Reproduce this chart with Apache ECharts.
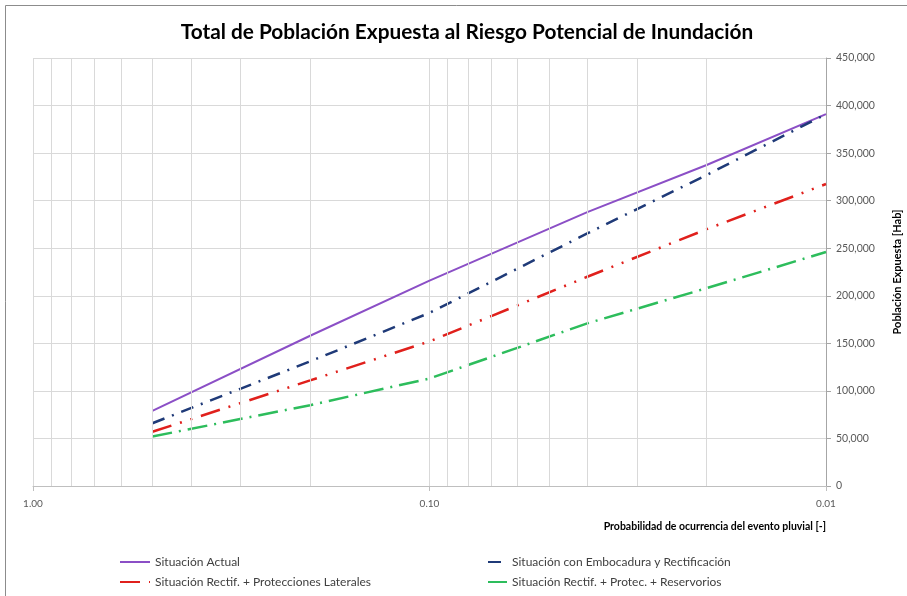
<!DOCTYPE html>
<html lang="es">

<head>
    <meta charset="UTF-8">
    <title>Población Expuesta</title>
    <script src="https://cdn.jsdelivr.net/npm/echarts@6/dist/echarts.min.js"></script>
</head>

<body style="margin:0">
<div id="main" style="width: 907px; height:596px;"></div>
<script>
    // probabilidad de ocurrencia (eje log invertido)
    const prob = [0.5, 0.2, 0.1, 0.04, 0.02, 0.01]
    const actual = [79000, 158000, 216000, 288000, 337500, 391000]
    const embocadura = [66000, 131000, 182000, 265500, 327000, 391000]
    const protecciones = [57000, 111000, 152000, 220000, 270000, 317500]
    const reservorios = [52000, 85000, 113000, 171000, 208000, 246000]
    // lineas menores del eje log
    const minorGrid = [0.9, 0.8, 0.7, 0.6, 0.5, 0.4, 0.3, 0.2,
        0.09, 0.08, 0.07, 0.06, 0.05, 0.04, 0.03, 0.02]

    const font = 'Lato'
    const pairs = (ys) => prob.map((p, i) => [p, ys[i]])

    function lineSeries(name, ys, color, type, width) {
        return {
            name: name,
            type: 'line',
            data: pairs(ys),
            symbol: 'none',
            z: 3,
            lineStyle: {color: color, width: width, type: type},
            itemStyle: {color: color}
        }
    }

    const legendBase = {
        top: 551, orient: 'vertical', itemGap: 8, itemHeight: 14,
        itemStyle: {opacity: 0},
        textStyle: {fontFamily: font, fontSize: 12, color: '#404040'}
    }

    const chart = echarts.init(document.getElementById('main'))
    chart.setOption({
        animation: false,
        backgroundColor: '#fff',
        textStyle: {fontFamily: font},
        graphic: [{
            type: 'rect',
            shape: {x: 5.5, y: 5.5, width: 1000, height: 1000},
            style: {fill: 'none', stroke: '#8c8c8c', lineWidth: 1}
        }],
        title: {
            text: 'Total de Población Expuesta al Riesgo Potencial de Inundación',
            left: 462,
            textAlign: 'center',
            top: 17,
            textStyle: {fontFamily: font, fontSize: 20.8, fontWeight: 'bold', color: '#000'}
        },
        grid: {left: 33, right: 81, top: 58, bottom: 110, outerBoundsMode: 'none', containLabel: false},
        legend: [Object.assign({}, legendBase, {
            left: 114, itemWidth: 30,
            data: ['Situación Actual', 'Situación Rectif. + Protecciones Laterales']
        }), Object.assign({}, legendBase, {
            left: 482, itemWidth: 19,
            data: ['Situación con Embocadura y Rectificación', 'Situación Rectif. + Protec. + Reservorios']
        })],
        xAxis: {
            type: 'log',
            logBase: 10,
            min: 0.01,
            max: 1,
            inverse: true,
            name: 'Probabilidad de ocurrencia del evento pluvial [-]',
            nameLocation: 'start',
            nameGap: 0,
            nameTextStyle: {
                fontFamily: font, fontSize: 10.5, fontWeight: 'bold', color: '#000',
                align: 'right', verticalAlign: 'top', padding: [35, 0, 0, 0]
            },
            axisLine: {show: true, lineStyle: {color: '#bfbfbf'}},
            axisTick: {show: true, length: 5, lineStyle: {color: '#bfbfbf'}},
            axisLabel: {
                color: '#595959', fontSize: 10, margin: 13,
                formatter: (v) => v.toFixed(2)
            },
            splitLine: {show: true, lineStyle: {color: '#d9d9d9'}}
        },
        yAxis: {
            type: 'value',
            position: 'right',
            min: 0,
            max: 450000,
            interval: 50000,
            name: 'Población Expuesta [Hab]',
            nameLocation: 'middle',
            nameRotate: 90,
            nameGap: 66,
            nameTextStyle: {fontFamily: font, fontSize: 11, fontWeight: 'bold', color: '#000'},
            axisLine: {show: true, lineStyle: {color: '#a6a6a6'}},
            axisTick: {show: true, length: 5, lineStyle: {color: '#a6a6a6'}},
            axisLabel: {
                color: '#595959', fontSize: 10.5, margin: 10,
                formatter: (v) => v.toLocaleString('en-US')
            },
            splitLine: {show: true, lineStyle: {color: '#d9d9d9'}}
        },
        series: [
            {
                name: 'grid',
                type: 'line',
                data: [],
                z: 1,
                silent: true,
                markLine: {
                    silent: true,
                    symbol: ['none', 'none'],
                    label: {show: false},
                    lineStyle: {color: '#d9d9d9', type: 'solid', width: 1},
                    data: minorGrid.map((v) => ({xAxis: v}))
                }
            },
            lineSeries('Situación Actual', actual, '#8b4fc6', 'solid', 2),
            lineSeries('Situación con Embocadura y Rectificación', embocadura, '#1f3a78', [13, 8, 2, 8], 2.5),
            lineSeries('Situación Rectif. + Protecciones Laterales', protecciones, '#e0201c', [20, 9, 2, 9, 2, 9], 2.5),
            lineSeries('Situación Rectif. + Protec. + Reservorios', reservorios, '#2dbd5c', [20, 7, 2, 7], 2.5)
        ]
    })
</script>
</body>

</html>
